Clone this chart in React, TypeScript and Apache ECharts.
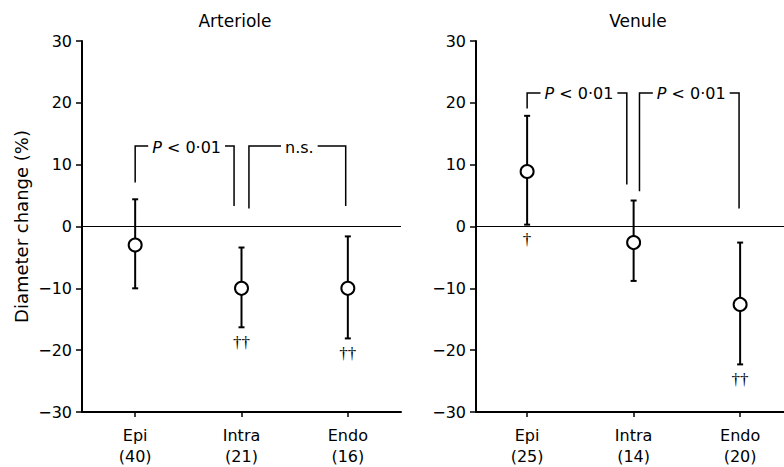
import React, { useEffect, useRef } from 'react';
import * as echarts from 'echarts';

const FONT = '"DejaVu Sans", "Liberation Sans", Arial, sans-serif';
const SERIF = '"Liberation Serif", "DejaVu Serif", serif';

const categories = ['Epi', 'Intra', 'Endo'];
const panelTitles = ['Arteriole', 'Venule'];
const yAxisName = 'Diameter change (%)';

const arterioleN = ['40', '21', '16'];
const arterioleMean = [-3, -10, -10];
const arterioleLow = [-10, -16.3, -18.1];
const arterioleHigh = [4.4, -3.4, -1.6];
const arterioleDaggers = ['', '††', '††'];

const venuleN = ['25', '14', '20'];
const venuleMean = [8.9, -2.6, -12.6];
const venuleLow = [0.3, -8.8, -22.3];
const venuleHigh = [17.9, 4.2, -2.6];
const venuleDaggers = ['†', '', '††'];

// brackets: [xStart, xEnd, yTop, yLeftLegEnd, yRightLegEnd]
const arterioleBrackets = [
  [0, 0.93, 13, 7.1, 3.3],
  [1.07, 1.98, 13, 2.9, 3.3],
];
const arterioleBracketLabels = ['P < 0·01', 'n.s.'];
const venuleBrackets = [
  [0, 0.936, 21.6, 19.1, 6.8],
  [1.055, 1.99, 21.6, 5.7, 2.9],
];
const venuleBracketLabels = ['P < 0·01', 'P < 0·01'];

const yMin = -30;
const yMax = 30;
const yStep = 10;

function richLabel(s: string) {
  if (s.startsWith('P ')) return '{i|P}' + s.slice(1);
  return s;
}

function buildPanel(idx: number, mean: number[], low: number[], high: number[], daggers: string[], brackets: number[][], bracketLabels: string[]) {
  const series: any[] = [];
  series.push({
    type: 'custom',
    xAxisIndex: idx,
    yAxisIndex: idx,
    z: 2,
    silent: true,
    itemStyle: { color: '#000' },
    data: categories.map((_, i) => [i, low[i], high[i]]),
    renderItem: (params: any, api: any) => {
      const x = api.value(0);
      const pLo = api.coord([x, api.value(1)]);
      const pHi = api.coord([x, api.value(2)]);
      const st = { stroke: '#000', lineWidth: 2 };
      const cap = 3;
      const children: any[] = [
        { type: 'line', shape: { x1: pLo[0], y1: pLo[1], x2: pHi[0], y2: pHi[1] }, style: st },
        { type: 'line', shape: { x1: pLo[0] - cap, y1: pLo[1], x2: pLo[0] + cap, y2: pLo[1] }, style: st },
        { type: 'line', shape: { x1: pHi[0] - cap, y1: pHi[1], x2: pHi[0] + cap, y2: pHi[1] }, style: st },
      ];
      const d = daggers[params.dataIndex];
      if (d) {
        children.push({
          type: 'text',
          x: pLo[0],
          y: pLo[1] + 15,
          style: {
            text: d, fill: '#000', fontSize: 17, fontFamily: SERIF,
            align: 'center', verticalAlign: 'middle', textAlign: 'center', textVerticalAlign: 'middle',
          },
        });
      }
      return { type: 'group', children };
    },
  });
  series.push({
    type: 'scatter',
    xAxisIndex: idx,
    yAxisIndex: idx,
    z: 3,
    silent: true,
    symbol: 'circle',
    symbolSize: 13,
    itemStyle: { color: '#fff', borderColor: '#000', borderWidth: 2, opacity: 1 },
    data: mean.map((m, i) => [i, m]),
    markLine: {
      silent: true,
      symbol: ['none', 'none'],
      label: { show: false },
      lineStyle: { color: '#000', width: 1, type: 'solid' },
      data: [{ yAxis: 0 }],
    },
  });
  series.push({
    type: 'custom',
    xAxisIndex: idx,
    yAxisIndex: idx,
    z: 4,
    silent: true,
    itemStyle: { color: '#000' },
    data: brackets,
    renderItem: (params: any, api: any) => {
      const x1 = api.value(0), x2 = api.value(1), yt = api.value(2), y1 = api.value(3), y2 = api.value(4);
      const a = api.coord([x1, yt]);
      const b = api.coord([x2, yt]);
      const aE = api.coord([x1, y1]);
      const bE = api.coord([x2, y2]);
      const st = { stroke: '#000', lineWidth: 1.5, fill: null };
      return {
        type: 'group',
        children: [
          { type: 'polyline', shape: { points: [[aE[0], aE[1]], [a[0], a[1]], [b[0], b[1]], [bE[0], bE[1]]] }, style: st },
          {
            type: 'text',
            x: (a[0] + b[0]) / 2 + 2,
            y: a[1] + 1,
            style: {
              text: richLabel(bracketLabels[params.dataIndex]),
              rich: { i: { fontStyle: 'italic', fontSize: 16, fontFamily: FONT, fill: '#000' } },
              fill: '#000', fontSize: 16, fontFamily: FONT,
              align: 'center', verticalAlign: 'middle', textAlign: 'center', textVerticalAlign: 'middle',
              backgroundColor: '#fff', padding: [0, 4],
            },
          },
        ],
      };
    },
  });
  return series;
}

export default function App() {
  const ref = useRef<HTMLDivElement>(null);
  useEffect(() => {
    if (!ref.current) return;
    const chart = echarts.init(ref.current, null, { renderer: 'svg' });
    const grids = [
      { left: 82, top: 41, width: 319, height: 372 },
      { left: 476, top: 41, right: 0, height: 372 },
    ];
    const xRanges = [[-0.5, 2.5], [-0.48, 2.412]];
    const nLists = [arterioleN, venuleN];
    const xAxes = [0, 1].map((i) => ({
      type: 'value',
      gridIndex: i,
      min: xRanges[i][0],
      max: xRanges[i][1],
      splitLine: { show: false },
      axisLine: { show: true, onZero: false, lineStyle: { color: '#000', width: 2 } },
      axisTick: { show: true, customValues: [0, 1, 2], length: 5, lineStyle: { color: '#000', width: 1.5 } },
      axisLabel: {
        customValues: [0, 1, 2],
        margin: 13,
        color: '#000',
        fontSize: 16,
        fontFamily: FONT,
        lineHeight: 21,
        formatter: (v: number) => {
          const k = Math.round(v);
          return `${categories[k]}\n(${nLists[i][k]})`;
        },
      },
    }));
    const yAxes = [0, 1].map((i) => ({
      type: 'value',
      gridIndex: i,
      min: yMin,
      max: yMax,
      interval: yStep,
      name: i === 0 ? yAxisName : '',
      nameLocation: 'middle',
      nameGap: 52,
      nameTextStyle: { color: '#000', fontSize: 18, fontFamily: FONT },
      splitLine: { show: false },
      axisLine: { show: true, onZero: false, lineStyle: { color: '#000', width: 2 } },
      axisTick: { show: true, length: 6, lineStyle: { color: '#000', width: 1.5 } },
      axisLabel: {
        margin: 10,
        color: '#000',
        fontSize: 16,
        fontFamily: FONT,
        formatter: (v: number) => String(v).replace('-', '\u2212'),
      },
    }));
    const series = [
      ...buildPanel(0, arterioleMean, arterioleLow, arterioleHigh, arterioleDaggers, arterioleBrackets, arterioleBracketLabels),
      ...buildPanel(1, venuleMean, venuleLow, venuleHigh, venuleDaggers, venuleBrackets, venuleBracketLabels),
    ];
    const titleX = [235, 638];
    chart.setOption({
      animation: false,
      backgroundColor: '#fff',
      grid: grids,
      xAxis: xAxes,
      yAxis: yAxes,
      graphic: panelTitles.map((t, i) => ({
        type: 'text',
        x: titleX[i],
        y: 21,
        style: {
          text: t, fill: '#000', fontSize: 17, fontFamily: FONT,
          align: 'center', verticalAlign: 'middle', textAlign: 'center', textVerticalAlign: 'middle',
        },
      })),
      series,
    });
    return () => chart.dispose();
  }, []);
  return <div ref={ref} style={{ position: 'absolute', left: 0, top: 0, width: 784, height: 467 }} />;
}
